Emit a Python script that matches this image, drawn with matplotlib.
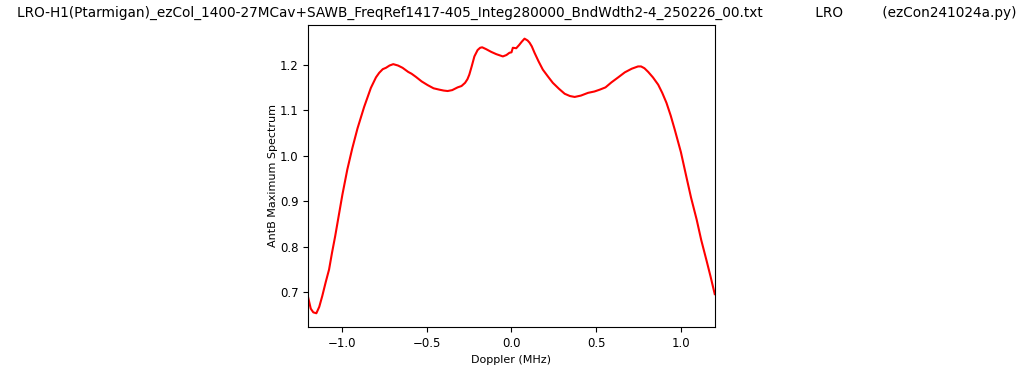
import numpy as np
import matplotlib
matplotlib.use("Agg")
import matplotlib.pyplot as plt

title_text = ("LRO-H1(Ptarmigan)_ezCol_1400-27MCav+SAWB_FreqRef1417-405_Integ280000_BndWdth2-4_250226_00.txt"
              "            LRO         (ezCon241024a.py)")

# doppler (MHz) and AntB max spectrum
doppler = [-1.200, -1.185, -1.170, -1.152, -1.135, -1.117, -1.097, -1.077, -1.060,
           -1.041, -1.020, -0.998, -0.969, -0.940, -0.909, -0.870, -0.830, -0.800,
           -0.781, -0.760, -0.741, -0.720, -0.698, -0.670, -0.643, -0.610, -0.590,
           -0.564, -0.530, -0.495, -0.460, -0.426, -0.400, -0.377, -0.350, -0.318,
           -0.295, -0.274, -0.260, -0.249, -0.235, -0.219, -0.200, -0.185, -0.173,
           -0.150, -0.120, -0.090, -0.051, -0.030, -0.012, 0.000, 0.008, 0.028,
           0.045, 0.060, 0.077, 0.095, 0.107, 0.120, 0.136, 0.160, 0.185, 0.215,
           0.244, 0.280, 0.314, 0.345, 0.373, 0.410, 0.452, 0.490, 0.521, 0.555,
           0.590, 0.630, 0.669, 0.710, 0.747, 0.765, 0.785, 0.807, 0.835, 0.866,
           0.890, 0.915, 0.940, 0.964, 1.000, 1.034, 1.060, 1.093, 1.120, 1.152,
           1.175, 1.200]
spectrum = [0.688, 0.664, 0.656, 0.654, 0.668, 0.692, 0.722, 0.750, 0.786,
            0.823, 0.868, 0.915, 0.970, 1.016, 1.060, 1.107, 1.149, 1.172,
            1.182, 1.190, 1.193, 1.198, 1.201, 1.198, 1.193, 1.184, 1.180,
            1.173, 1.163, 1.155, 1.148, 1.145, 1.143, 1.142, 1.144, 1.150,
            1.153, 1.160, 1.168, 1.178, 1.196, 1.218, 1.232, 1.237, 1.238,
            1.234, 1.228, 1.223, 1.218, 1.221, 1.226, 1.227, 1.237, 1.236,
            1.243, 1.250, 1.257, 1.253, 1.248, 1.240, 1.226, 1.207, 1.189, 1.174,
            1.160, 1.147, 1.136, 1.131, 1.129, 1.132, 1.138, 1.141, 1.145, 1.150,
            1.161, 1.172, 1.183, 1.191, 1.196, 1.196, 1.192, 1.184, 1.172, 1.156,
            1.138, 1.116, 1.088, 1.057, 1.008, 0.951, 0.908, 0.860, 0.815, 0.769,
            0.735, 0.696]


def main():
    fig = plt.figure(figsize=(10.24, 3.72), dpi=100)
    ax = fig.add_axes([0.301, 0.121, 0.397, 0.812])
    ax.plot(doppler, spectrum, color="red", linewidth=1.5)
    ax.set_xlim(-1.2, 1.2)
    ax.tick_params(labelsize=8.5)
    ax.set_xlabel("Doppler (MHz)", fontsize=8)
    ax.set_ylabel("AntB Maximum Spectrum", fontsize=8, labelpad=1.5)
    fig.text(0.505, 0.965, title_text, ha="center", va="center", fontsize=9.8)
    fig.savefig("out.png", dpi=100)


if __name__ == "__main__": main()
